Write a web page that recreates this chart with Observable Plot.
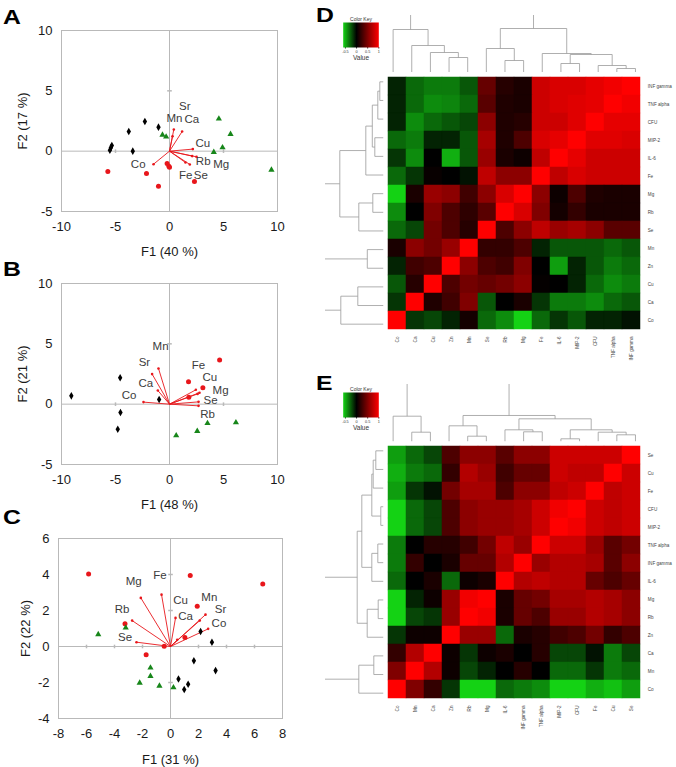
<!DOCTYPE html>
<html><head><meta charset="utf-8">
<script src="https://cdn.jsdelivr.net/npm/d3@7"></script>
<script src="https://cdn.jsdelivr.net/npm/@observablehq/plot@0.6"></script>
<style>
body{margin:0;background:#fff;}
#fig{position:relative;width:676px;height:767px;overflow:hidden;background:#fff;font-family:"Liberation Sans",Arial,Helvetica,sans-serif;}
.letter{position:absolute;font:bold 21px "Liberation Sans",Arial,sans-serif;line-height:1;transform:scaleX(1.18);transform-origin:left top;color:#000;}
</style></head><body>
<svg width="0" height="0" style="position:absolute"><defs><linearGradient id="keyGradient" x1="0" x2="1" y1="0" y2="0"></linearGradient></defs></svg>
<div id="fig"></div>
<script>
// ---------- Panel A (PCA biplot) ----------
const aBlackF1 = [-5.52, -5.43, -5.34, -3.77, -3.40, -2.28, -1.02];
const aBlackF2 = [0.08, 0.28, 0.47, 1.63, 0.00, 2.46, 1.99];
const aRedF1 = [-5.71, -2.13, -1.02, -0.22, -0.06, 0.00, 2.31];
const aRedF2 = [-1.69, -1.85, -2.90, -1.02, -1.24, -1.33, -2.51];
const aGreenF1 = [-0.65, -0.31, 4.57, 5.65, 4.91, 4.10, 9.44];
const aGreenF2 = [1.35, 1.19, 2.68, 1.41, 0.30, -0.08, -1.55];
const aVarNames = ["Sr", "Mn", "Ca", "Cu", "Rb", "Mg", "Fe", "Se", "Co"];
const aVarF1 = [0.28, 0.40, 1.17, 2.16, 2.10, 2.50, 1.48, 1.88, -1.48];
const aVarF2 = [1.24, 1.80, 1.63, 0.17, -0.41, -0.47, -0.94, -1.10, -1.08];
const aLabF1 = [1.42, 0.46, 2.07, 3.09, 3.12, 4.78, 1.50, 2.90, -2.90];
const aLabF2 = [3.70, 2.76, 2.60, 0.61, -0.88, -1.10, -1.98, -2.02, -1.05];

// ---------- Panel B ----------
const bBlackF1 = [-9.09, -4.57, -4.54, -4.79, -0.96];
const bBlackF2 = [0.69, 2.19, -0.69, -2.08, 0.39];
const bRedF1 = [4.64, 1.76, 3.09, 1.79];
const bRedF2 = [3.65, 1.85, 1.36, 0.58];
const bGreenF1 = [0.62, 2.57, 3.52, 6.15];
const bGreenF2 = [-2.60, -2.24, -1.58, -1.52];
const bVarNames = ["Mn", "Sr", "Ca", "Co", "Fe", "Cu", "Mg", "Se", "Rb"];
const bVarF1 = [-1.02, -1.61, -1.08, -2.41, 2.44, 2.78, 2.60, 2.69, 2.69];
const bVarF2 = [2.96, 2.49, 1.13, 0.17, 1.19, 0.95, 0.85, 0.19, -0.14];
const bLabF1 = [-0.83, -2.32, -2.19, -3.74, 2.69, 3.74, 4.73, 3.80, 3.52];
const bLabF2 = [4.76, 3.46, 1.72, 0.75, 3.18, 2.19, 1.13, 0.32, -0.86];

// ---------- Panel C ----------
const cBlackF1 = [2.15, 2.96, 1.67, 3.22, 0.57, 1.26, 0.98];
const cBlackF2 = [0.83, 0.24, -0.79, -1.34, -1.81, -2.10, -2.39];
const cRedF1 = [-5.85, 1.41, 6.59, 1.91, -3.25, 1.03, -0.45, -1.74];
const cRedF2 = [4.03, 3.94, 3.47, 2.24, 1.26, 0.50, 0.02, -0.46];
const cGreenF1 = [-5.16, -3.20, -1.43, -1.43, -2.20, -0.79, 0.21];
const cGreenF2 = [0.67, 1.04, -1.18, -1.65, -2.02, -2.19, -2.28];
const cVarNames = ["Mg", "Fe", "Cu", "Ca", "Mn", "Sr", "Co", "Rb", "Se"];
const cVarF1 = [-2.12, -0.64, 0.36, 0.48, 2.09, 2.50, 2.69, -2.74, -2.43];
const cVarF2 = [2.70, 2.88, 1.59, 0.37, 1.44, 1.77, 0.98, 1.44, 0.24];
const cLabF1 = [-2.63, -0.76, 0.72, 1.07, 2.77, 3.58, 3.46, -3.46, -3.25];
const cLabF2 = [3.60, 3.93, 2.55, 1.66, 2.73, 2.08, 1.29, 2.08, 0.52];

// axis ticks
const abXTicks = [-10, -5, 0, 5, 10];
const abYTicks = [-5, 0, 5, 10];
const abInnerX = [-5, 5];
const abInnerY = [5];
const cXTicks = [-8, -6, -4, -2, 0, 2, 4, 6, 8];
const cYTicks = [-4, -2, 0, 2, 4, 6];
const cInnerX = [-6, -4, -2, 2, 4, 6];
const cInnerY = [-2, 2, 4];

// ---------- Heatmap D ----------
const dCols = ["Co", "Ca", "Cu", "Zn", "Mn", "Se", "Rb", "Mg", "Fe", "IL-6", "MIP-2", "CFU", "TNF alpha", "INF gamma"];
const dRows = ["INF gamma", "TNF alpha", "CFU", "MIP-2", "IL-6", "Fe", "Mg", "Rb", "Se", "Mn", "Zn", "Cu", "Ca", "Co"];
const dValues = [
  [-0.10, -0.30, -0.35, -0.35, -0.25, 0.40, 0.15, 0.10, 0.80, 0.85, 0.85, 0.90, 0.95, 1.00],
  [-0.10, -0.30, -0.40, -0.38, -0.30, 0.35, 0.12, 0.10, 0.80, 0.85, 0.88, 0.90, 1.00, 0.95],
  [-0.10, -0.40, -0.30, -0.25, -0.20, 0.55, 0.12, 0.15, 0.80, 0.80, 0.88, 1.00, 0.90, 0.90],
  [-0.30, -0.35, -0.10, -0.10, -0.25, 0.65, 0.12, 0.30, 0.85, 0.90, 1.00, 0.88, 0.88, 0.85],
  [-0.15, -0.40, 0.00, -0.50, -0.25, 0.60, 0.10, 0.05, 0.75, 1.00, 0.90, 0.80, 0.80, 0.80],
  [-0.30, -0.15, 0.03, 0.00, -0.05, 0.75, 0.55, 0.55, 1.00, 0.75, 0.85, 0.80, 0.80, 0.80],
  [-0.60, 0.10, 0.60, 0.55, 0.25, 0.55, 0.85, 1.00, 0.55, 0.05, 0.30, 0.12, 0.10, 0.10],
  [-0.40, 0.00, 0.50, 0.30, 0.18, 0.35, 1.00, 0.85, 0.50, 0.08, 0.20, 0.10, 0.10, 0.10],
  [-0.30, -0.20, 0.45, 0.30, 0.15, 1.00, 0.30, 0.55, 0.75, 0.60, 0.65, 0.55, 0.35, 0.35],
  [0.10, 0.55, 0.45, 0.60, 1.00, 0.20, 0.20, 0.30, -0.10, -0.25, -0.25, -0.25, -0.30, -0.25],
  [-0.10, 0.25, 0.30, 1.00, 0.55, 0.30, 0.25, 0.50, 0.00, -0.45, -0.10, -0.25, -0.35, -0.30],
  [-0.25, 0.15, 1.00, 0.30, 0.45, 0.40, 0.45, 0.55, 0.02, 0.00, -0.10, -0.30, -0.40, -0.35],
  [-0.15, 1.00, 0.12, 0.25, 0.50, -0.25, 0.00, 0.10, -0.15, -0.35, -0.35, -0.40, -0.30, -0.25],
  [1.00, -0.15, -0.20, -0.10, 0.08, -0.30, -0.40, -0.60, -0.30, -0.15, -0.25, -0.10, -0.10, -0.05]
];
// dendrogram merges: [childA, childB, height]; numbers refer to earlier merges
const dColMerges = [
  ["Zn", "Mn", 15], ["Cu", 0, 20], ["Ca", 1, 27], ["Co", 2, 43],
  ["Rb", "Mg", 12], ["Se", 4, 24],
  ["TNF alpha", "INF gamma", 4], ["CFU", 6, 7], ["IL-6", "MIP-2", 9], [8, 7, 18], ["Fe", 9, 19],
  [5, 10, 44], [3, 11, 80]
];
const dRowMerges = [
  ["INF gamma", "TNF alpha", 4], [0, "CFU", 6], ["MIP-2", "IL-6", 9], [1, 2, 11.5], [3, "Fe", 18],
  ["Mg", "Rb", 11], [5, "Se", 25], [4, 6, 44],
  ["Mn", "Zn", 16.5], ["Cu", "Ca", 26], [9, "Co", 43], [8, 10, 62], [7, 11, 80]
];

// ---------- Heatmap E ----------
const eCols = ["Co", "Mn", "Ca", "Zn", "Rb", "Mg", "IL-6", "INF gamma", "TNF alpha", "MIP-2", "CFU", "Fe", "Cu", "Se"];
const eRows = ["Se", "Cu", "Fe", "CFU", "MIP-2", "TNF alpha", "INF gamma", "IL-6", "Mg", "Rb", "Zn", "Ca", "Mn", "Co"];
const eValues = [
  [-0.45, -0.30, -0.20, 0.30, 0.55, 0.55, 0.35, 0.55, 0.55, 0.80, 0.80, 0.80, 0.80, 1.00],
  [-0.50, -0.35, -0.30, 0.20, 0.70, 0.60, 0.25, 0.40, 0.40, 0.80, 0.75, 0.75, 1.00, 0.80],
  [-0.45, -0.15, -0.05, 0.45, 0.65, 0.65, 0.30, 0.55, 0.55, 0.75, 0.80, 1.00, 0.75, 0.80],
  [-0.70, -0.30, -0.20, 0.30, 0.55, 0.60, 0.60, 0.65, 0.80, 0.95, 1.00, 0.80, 0.75, 0.80],
  [-0.70, -0.30, -0.20, 0.30, 0.55, 0.60, 0.60, 0.65, 0.80, 1.00, 0.95, 0.80, 0.75, 0.80],
  [-0.35, 0.00, 0.15, 0.15, 0.25, 0.45, 0.75, 0.60, 1.00, 0.80, 0.80, 0.60, 0.35, 0.45],
  [-0.35, 0.20, 0.00, 0.10, 0.40, 0.40, 0.70, 1.00, 0.60, 0.70, 0.70, 0.65, 0.35, 0.55],
  [-0.30, 0.00, 0.10, -0.30, 0.05, 0.10, 1.00, 0.70, 0.75, 0.70, 0.70, 0.40, 0.30, 0.40],
  [-0.60, -0.10, 0.05, 0.60, 0.95, 1.00, 0.10, 0.40, 0.45, 0.65, 0.65, 0.70, 0.65, 0.55],
  [-0.60, -0.20, -0.15, 0.60, 1.00, 0.95, 0.10, 0.40, 0.30, 0.60, 0.60, 0.70, 0.65, 0.55],
  [-0.15, 0.05, 0.05, 1.00, 0.60, 0.60, -0.30, 0.10, 0.15, 0.25, 0.30, 0.45, 0.20, 0.30],
  [0.20, 0.70, 1.00, 0.05, -0.15, 0.05, 0.10, 0.00, 0.15, -0.20, -0.20, -0.05, -0.35, -0.20],
  [0.50, 1.00, 0.70, 0.05, -0.20, -0.10, 0.00, 0.15, 0.00, -0.30, -0.30, -0.15, -0.35, -0.30],
  [1.00, 0.50, 0.20, -0.15, -0.60, -0.60, -0.30, -0.35, -0.40, -0.70, -0.70, -0.50, -0.55, -0.45]
];
const eColMerges = [
  ["Mn", "Ca", 9.6], ["Co", 0, 25.6],
  ["Rb", "Mg", 5.6], ["Zn", 2, 16],
  ["INF gamma", "TNF alpha", 10], ["IL-6", 4, 12],
  ["MIP-2", "CFU", 3], ["Cu", "Se", 7], ["Fe", 7, 9.6], [6, 8, 12],
  [5, 9, 23], [3, 10, 26.3], [1, 11, 80]
];
const eRowMerges = [
  ["Se", "Cu", 8], [0, "Fe", 10.6], ["CFU", "MIP-2", 3], [1, 2, 12],
  ["TNF alpha", "INF gamma", 6], [4, "IL-6", 12], [3, 5, 22],
  ["Mg", "Rb", 5.6], [7, "Zn", 16.6], [6, 8, 26.6],
  ["Ca", "Mn", 10], [10, "Co", 25], [9, 11, 80]
];

const keyTicks = [-0.5, 0, 0.5, 1];
const keyStops = [-0.6, -0.3, 0, 0.5, 1];

// ---------- helpers ----------
const FONT = '"Liberation Sans", Arial, Helvetica, sans-serif';
const fig = document.getElementById("fig");
function place(el, left, top) {
  el.style.position = "absolute";
  el.style.left = left + "px";
  el.style.top = top + "px";
  el.style.background = "transparent";
  el.style.overflow = "visible";
  el.style.maxWidth = "none";
  fig.appendChild(el);
}
function letter(t, left, top) {
  const d = document.createElement("div");
  d.className = "letter"; d.textContent = t;
  d.style.left = left + "px"; d.style.top = top + "px";
  fig.appendChild(d);
}
const pts = (f1, f2) => f1.map((x, i) => ({f1: x, f2: f2[i]}));
const vars = (names, f1, f2) => names.map((n, i) => ({name: n, f1: f1[i], f2: f2[i]}));

const vbar = {draw(ctx, size) { const r = Math.sqrt(size / Math.PI); ctx.moveTo(0, -r); ctx.lineTo(0, r); }};
const hbar = {draw(ctx, size) { const r = Math.sqrt(size / Math.PI); ctx.moveTo(-r, 0); ctx.lineTo(r, 0); }};
const GRID = "#b9b9b9";
const RED = "#e8161b";
const GREEN = "#17861a";

function biplot(c) {
  return Plot.plot({
    width: 290, height: c.height,
    marginLeft: c.ml, marginRight: c.mr, marginTop: 30, marginBottom: c.mb,
    style: {fontFamily: FONT, fontSize: "13px", color: "#1a1a1a", background: "transparent"},
    x: {domain: c.xDomain, ticks: c.xTicks, tickFormat: d => String(d), tickSize: 0, tickPadding: 10,
        label: c.xLabel, labelAnchor: "center", labelArrow: "none", labelOffset: c.xLabelOffset},
    y: {domain: c.yDomain, ticks: c.yTicks, tickFormat: d => String(d), tickSize: 0, tickPadding: 9,
        label: c.yLabel, labelAnchor: "center", labelArrow: "none", labelOffset: c.yLabelOffset},
    marks: [
      Plot.frame({stroke: GRID}),
      Plot.ruleX([0], {stroke: GRID}),
      Plot.ruleY([0], {stroke: GRID}),
      Plot.dot(c.innerX, {x: d => d, y: () => 0, symbol: vbar, r: 1.8, fill: "none", stroke: GRID}),
      Plot.dot(c.innerY, {x: () => 0, y: d => d, symbol: hbar, r: 2.3, fill: "none", stroke: GRID}),
      Plot.link(c.vars, {x1: () => 0, y1: () => 0, x2: "f1", y2: "f2", stroke: RED, strokeWidth: 0.9}),
      Plot.dot(c.vars, {x: "f1", y: "f2", r: 1.3, fill: RED}),
      Plot.text(c.labels, {x: "f1", y: "f2", text: "name", fontSize: 11.5, fill: "#3c3c3c"}),
      Plot.dot(c.black, {x: "f1", y: "f2", symbol: "diamond", r: 2.3, fill: "#000"}),
      Plot.dot(c.red, {x: "f1", y: "f2", r: 2.5, fill: RED}),
      Plot.dot(c.green, {x: "f1", y: "f2", symbol: "triangle", r: 2.3, fill: GREEN})
    ]
  });
}

// Panel A
place(biplot({
  height: 256, ml: 61, mr: 13, mb: 45,
  xDomain: [-10, 10], yDomain: [-5, 10], xTicks: abXTicks, yTicks: abYTicks,
  innerX: abInnerX, innerY: abInnerY,
  xLabel: "F1 (40 %)", yLabel: "F2 (17 %)", xLabelOffset: 44, yLabelOffset: 44,
  black: pts(aBlackF1, aBlackF2), red: pts(aRedF1, aRedF2), green: pts(aGreenF1, aGreenF2),
  vars: vars(aVarNames, aVarF1, aVarF2), labels: vars(aVarNames, aLabF1, aLabF2)
}), 0, 0);
// Panel B
place(biplot({
  height: 256, ml: 61, mr: 13, mb: 45,
  xDomain: [-10, 10], yDomain: [-5, 10], xTicks: abXTicks, yTicks: abYTicks,
  innerX: abInnerX, innerY: abInnerY,
  xLabel: "F1 (48 %)", yLabel: "F2 (21 %)", xLabelOffset: 44, yLabelOffset: 43.5,
  black: pts(bBlackF1, bBlackF2), red: pts(bRedF1, bRedF2), green: pts(bGreenF1, bGreenF2),
  vars: vars(bVarNames, bVarF1, bVarF2), labels: vars(bVarNames, bLabF1, bLabF2)
}), 0, 253);
// Panel C
place(biplot({
  height: 259, ml: 58, mr: 8, mb: 49,
  xDomain: [-8, 8], yDomain: [-4, 6], xTicks: cXTicks, yTicks: cYTicks,
  innerX: cInnerX, innerY: cInnerY,
  xLabel: "F1 (31 %)", yLabel: "F2 (22 %)", xLabelOffset: 45, yLabelOffset: 38,
  black: pts(cBlackF1, cBlackF2), red: pts(cRedF1, cRedF2), green: pts(cGreenF1, cGreenF2),
  vars: vars(cVarNames, cVarF1, cVarF2), labels: vars(cVarNames, cLabF1, cLabF2)
}), 0, 508);

letter("A", 3, 5.5);
letter("B", 3, 257.5);
letter("C", 3, 505.5);
letter("D", 316, 4.2);
letter("E", 316, 372);

// ---------- heatmaps ----------
const colorOpts = {type: "linear", domain: [-0.6, 0, 1], range: ["#14d214", "#000000", "#ff0000"], interpolate: "rgb", clamp: true};
const colorScale = Plot.scale({color: colorOpts});
const grad = document.getElementById("keyGradient");
for (const v of keyStops) {
  const s = document.createElementNS("http://www.w3.org/2000/svg", "stop");
  s.setAttribute("offset", ((v + 0.6) / 1.6 * 100) + "%");
  s.setAttribute("stop-color", colorScale.apply(v));
  grad.appendChild(s);
}

function heatmap(cols, rows, values) {
  const table = [];
  rows.forEach((r, i) => cols.forEach((c, j) => table.push({row: r, col: c, v: values[i][j]})));
  return Plot.plot({
    width: 296, height: 300, marginLeft: 3.3, marginRight: 31.7, marginTop: 2, marginBottom: 37,
    style: {fontFamily: FONT, fontSize: "4.6px", color: "#444", background: "transparent"},
    x: {domain: cols, padding: 0, tickRotate: -90, tickSize: 0, tickPadding: 3, label: null},
    y: {domain: rows, padding: 0, axis: "right", tickSize: 0, tickPadding: 3, label: null},
    color: colorOpts,
    marks: [Plot.cell(table, {x: "col", y: "row", fill: "v", stroke: "v", strokeWidth: 0.5, inset: 0})]
  });
}

function dendroSegments(leaves, merges) {
  const pos = new Map(leaves.map((d, i) => [d, i]));
  const nodes = [];
  const get = k => typeof k === "number" ? nodes[k] : {p: pos.get(k), h: 0};
  const segs = [];
  for (const [a, b, h] of merges) {
    const A = get(a), B = get(b);
    segs.push({p1: A.p, h1: A.h, p2: A.p, h2: h});
    segs.push({p1: B.p, h1: B.h, p2: B.p, h2: h});
    segs.push({p1: A.p, h1: h, p2: B.p, h2: h});
    nodes.push({p: (A.p + B.p) / 2, h});
  }
  return segs;
}
const DENDRO = "#9a9a9a";
function topDendro(leaves, merges, height, marginTop, hMax) {
  return Plot.plot({
    width: 268, height, marginLeft: 3.3, marginRight: 3.7, marginTop, marginBottom: 0,
    style: {background: "transparent"},
    x: {domain: [-0.5, leaves.length - 0.5], axis: null},
    y: {domain: [0, hMax], axis: null},
    marks: [Plot.link(dendroSegments(leaves, merges), {x1: "p1", y1: "h1", x2: "p2", y2: "h2", stroke: DENDRO, strokeWidth: 0.8, clip: true})]
  });
}
function leftDendro(leaves, merges, hMax) {
  return Plot.plot({
    width: 58.3, height: 265, marginLeft: 0, marginRight: 0, marginTop: 2, marginBottom: 2,
    style: {background: "transparent"},
    x: {domain: [0, hMax], reverse: true, axis: null},
    y: {domain: [-0.5, leaves.length - 0.5], reverse: true, axis: null},
    marks: [Plot.link(dendroSegments(leaves, merges), {x1: "h1", y1: "p1", x2: "h2", y2: "p2", stroke: DENDRO, strokeWidth: 0.8, clip: true})]
  });
}
function colorKey() {
  return Plot.plot({
    width: 47, height: 56, marginLeft: 5.7, marginRight: 5.7, marginTop: 12, marginBottom: 19,
    style: {fontFamily: FONT, fontSize: "3.8px", color: "#333", background: "transparent"},
    x: {domain: [-0.6, 1], ticks: keyTicks, tickFormat: d => String(d), tickSize: 1.5, tickPadding: 0.8, label: null},
    y: {domain: [0, 1], axis: null},
    marks: [
      Plot.frame({fill: "url(#keyGradient)", stroke: "none"}),
      Plot.text(["Color Key"], {text: d => d, frameAnchor: "top", dy: -5, fontSize: 5}),
      Plot.text(["Value"], {text: d => d, frameAnchor: "bottom", dy: 12.5, fontSize: 6.5})
    ]
  });
}

// D
place(heatmap(dCols, dRows, dValues), 380, 70);
place(topDendro(dCols, dColMerges, 72, 15, 57), 380, 0);
place(leftDendro(dRows, dRowMerges, 58.3), 325, 70);
place(colorKey(), 337, 10);
// E
place(heatmap(eCols, eRows, eValues), 380, 439.3);
place(topDendro(eCols, eColMerges, 61.3, 4, 57.3), 380, 380);
place(leftDendro(eRows, eRowMerges, 58.3), 325, 439.3);
place(colorKey(), 337, 380);
</script>
</body></html>
